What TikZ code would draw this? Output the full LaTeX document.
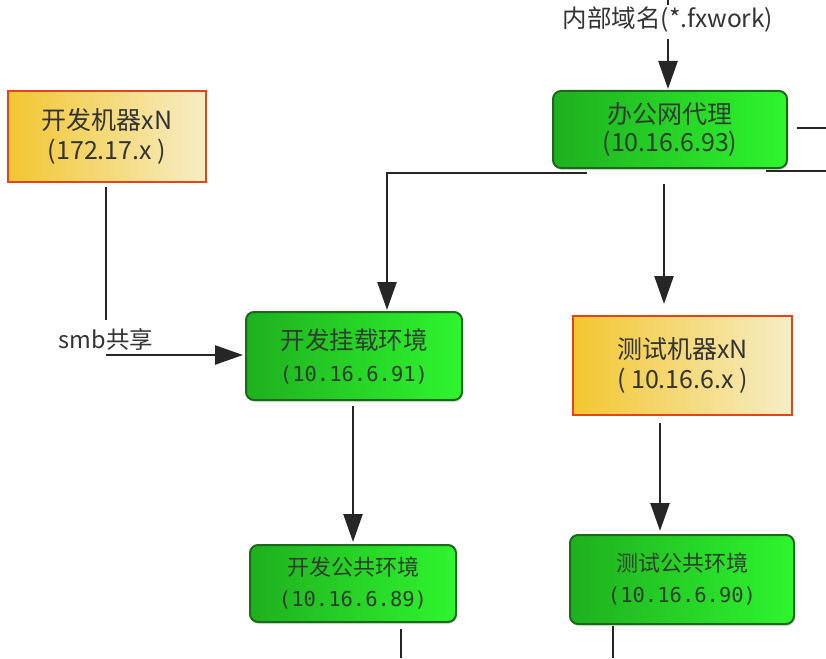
\documentclass[tikz,border=0pt]{standalone}
\usepackage{fontspec}
\setmainfont{Noto Sans CJK SC}
\newfontfamily\ipfont{DejaVu Sans Mono}
\usetikzlibrary{arrows.meta,shadows}

\definecolor{txtgray}{HTML}{333333}
\definecolor{linegray}{HTML}{262626}
\definecolor{boxtxt}{HTML}{2E3E2E}
\definecolor{gdark}{HTML}{1FB01F}
\definecolor{glight}{HTML}{2EF52E}
\definecolor{gborder}{HTML}{1A6A1A}
\definecolor{yleft}{HTML}{F2C630}
\definecolor{yright}{HTML}{F6EDC6}
\definecolor{oborder}{HTML}{E2451A}

\newcommand{\ipline}[1]{{\ipfont\fontsize{20.5}{31}\selectfont#1}}

\tikzset{
  envbox/.style={draw=gborder, line width=2pt, rounded corners=8pt,
    left color=gdark, right color=glight, text=boxtxt,
    align=center, font=\fontsize{22}{31}\selectfont,
    drop shadow={shadow xshift=1pt, shadow yshift=-2pt, opacity=.25}},
  proxybox/.style={envbox, font=\fontsize{25}{28}\selectfont},
  hostbox/.style={draw=oborder, line width=2pt,
    left color=yleft, right color=yright, text=txtgray,
    align=center, font=\fontsize{25}{30}\selectfont},
  link/.style={draw=linegray, line width=2.5pt},
  flow/.style={link, -{Triangle[length=28pt,width=19pt]}},
  lbl/.style={text=txtgray, font=\fontsize{23.5}{25}\selectfont, inner sep=2pt}
}

\begin{document}
\begin{tikzpicture}[x=1pt,y=-1pt]
        \useasboundingbox (0,0) rectangle (826,658);

        % boxes
        \node[proxybox, minimum width=234pt, minimum height=77pt] (proxy) at (670,129.5)
          {办公网代理\\(10.16.6.93)};
        \node[hostbox, minimum width=198pt, minimum height=91pt] (devm) at (107,136.5)
          {开发机器xN\\(172.17.x )};
        \node[envbox, font=\fontsize{24.5}{32}\selectfont, minimum width=216pt, minimum height=88pt]
          (mount) at (354,356) {开发挂载环境\\\ipline{(10.16.6.91)}};
        \node[envbox, minimum width=206pt, minimum height=77pt] (devpub) at (353,583.5)
          {开发公共环境\\\ipline{(10.16.6.89)}};
        \node[hostbox, minimum width=219pt, minimum height=99pt] (testm) at (682.5,365.5)
          {测试机器xN\\( 10.16.6.x )};
        \node[envbox, minimum width=224pt, minimum height=89pt] (testpub) at (682,579.5)
          {测试公共环境\\\ipline{(10.16.6.90)}};

        % labels
        \node[lbl, font=\fontsize{24.5}{26}\selectfont] (domain) at (668,20) {内部域名(*.fxwork)};
        \node[lbl] (smb) at (106,340) {smb共享};

        % free ends
        \coordinate (ttop) at (668,0);
        \coordinate (rtop) at (826,128);
        \coordinate (rbot) at (826,171);
        \coordinate (lcorner) at (387,173);
        \coordinate (smbturn) at (106,355);
        \coordinate (devout) at (401,658);
        \coordinate (testout) at (613,658);

        % connectors
        \draw[link] (ttop) -- (668,5);
        \draw[flow] (domain.south) ++(0,4) -- ([yshift=1pt]proxy.north -| domain);
        \draw[link] ([xshift=9pt]proxy.east |- rtop) -- (rtop);
        \draw[link] ([xshift=-22pt]proxy.south east |- rbot) -- (rbot);
        \draw[flow] ([xshift=35pt]proxy.south west |- lcorner) -- (lcorner)
          -- ([yshift=1pt]lcorner |- mount.north);
        \draw[flow] ([xshift=-6pt,yshift=-15pt]proxy.south) -- ([yshift=11pt]testm.north -| 664,0);
        \draw[link] ([yshift=-4pt]devm.south -| smb) -- ([yshift=7pt]smb.north);
        \draw[flow] (smbturn) -- ([xshift=-2pt]mount.west |- smbturn);
        \draw[flow] ([yshift=-5pt]mount.south -| devpub) -- ([yshift=2pt]devpub.north);
        \draw[link] ([yshift=-6pt]devpub.south -| devout) -- (devout);
        \draw[flow] ([yshift=-7pt]testm.south -| 660,0) -- ([yshift=3pt]testpub.north -| 660,0);
        \draw[link] ([yshift=-1pt]testpub.south -| testout) -- (testout);
      \end{tikzpicture}
\end{document}
